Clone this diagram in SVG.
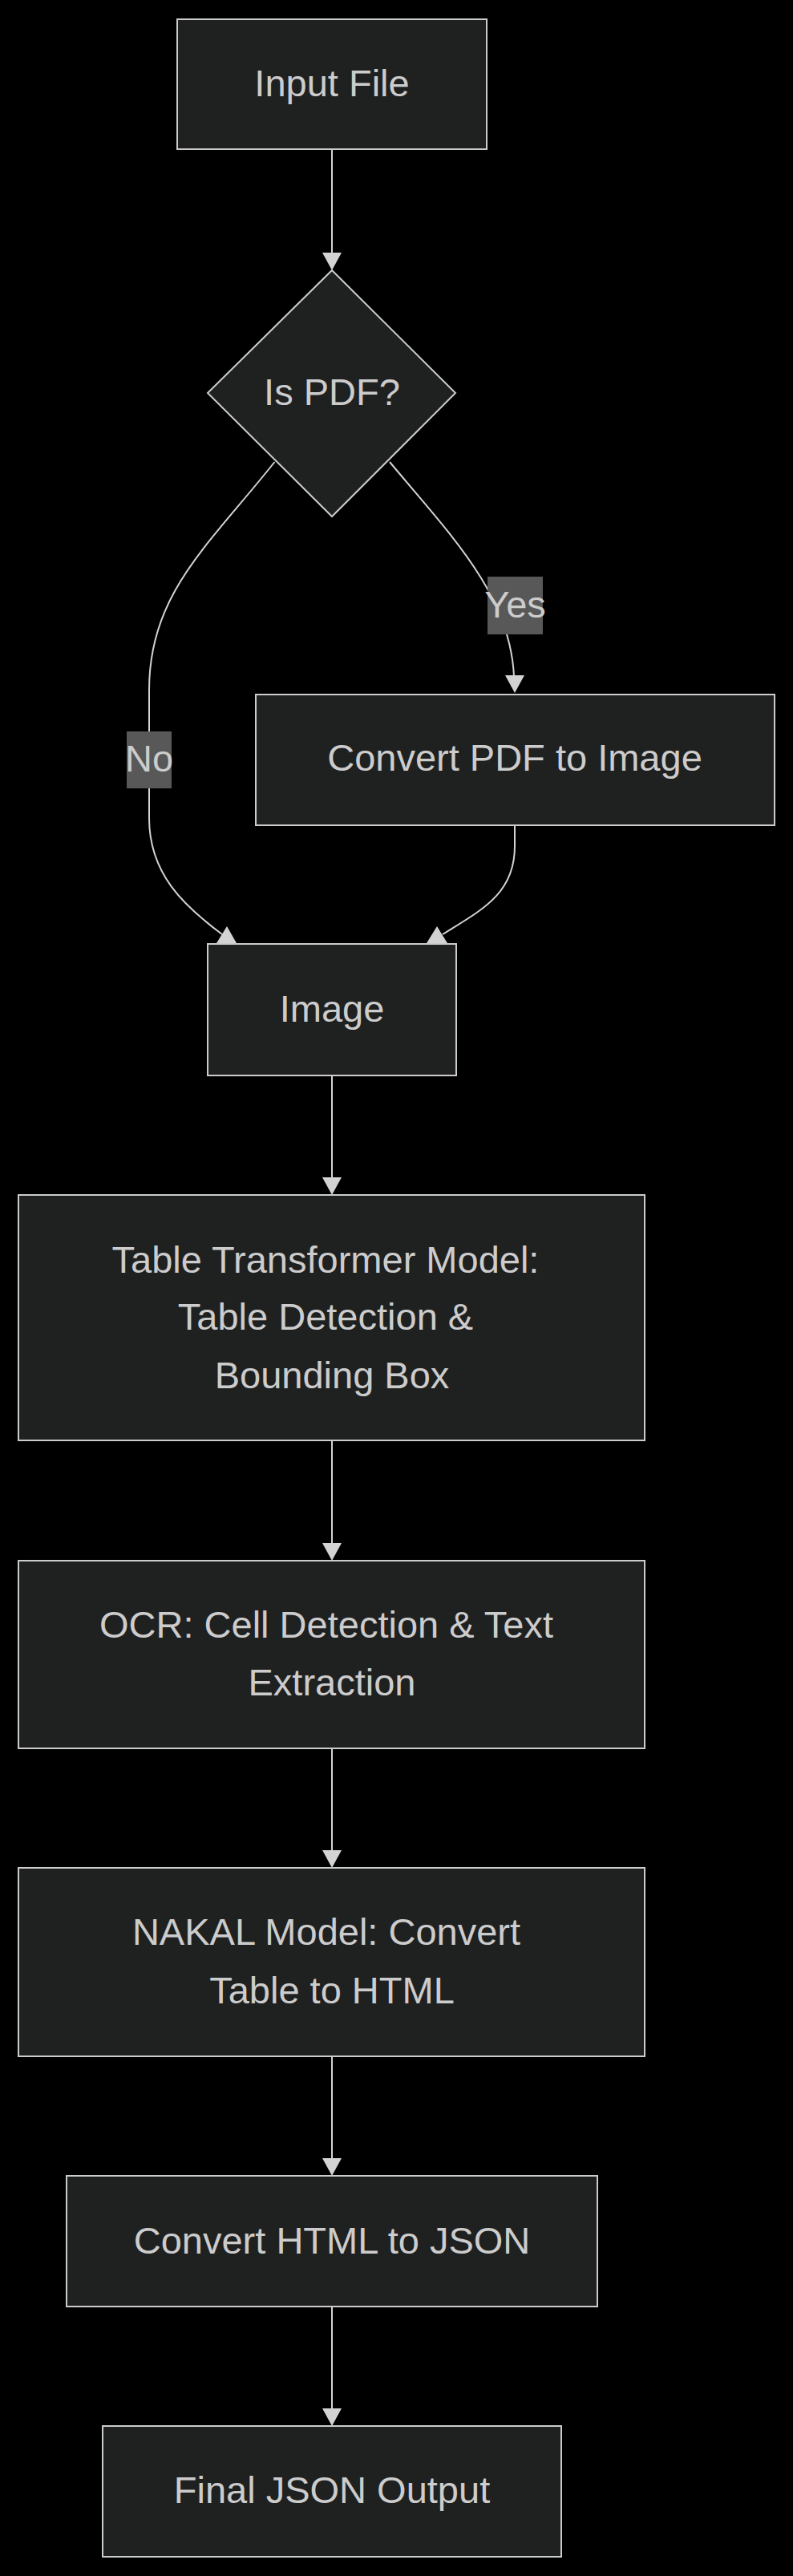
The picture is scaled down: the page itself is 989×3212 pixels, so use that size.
<svg xmlns="http://www.w3.org/2000/svg" width="989" height="3212" viewBox="0 0 989 3212">
<style>
.bg{fill:#000000}
.node{fill:#1f2020;stroke:#cccccc;stroke-width:2}
.lbl{font-family:"Liberation Sans",Arial,sans-serif;font-size:47px;fill:#cccccc;text-anchor:middle}
.edge{fill:none;stroke:#d3d3d3;stroke-width:2}
.head{fill:#d3d3d3}
.elbg{fill:#585858}
</style>
<rect class="bg" x="0" y="0" width="989" height="3212"/>
<g id="connectors">
  <path class="edge" d="M414,186 L414,316"/>
  <polygon class="head" points="402,315 426,315 414,337"/>
  <path class="edge" d="M342.5,576 C260,680 186,740 186,860 L186,1020 C186,1090 230,1130 277,1165"/>
  <polygon class="head" points="270,1176 295,1176 283,1155"/>
  <path class="edge" d="M486,576 C560,665 636,740 641,843"/>
  <polygon class="head" points="630,842 654,842 642,864"/>
  <path class="edge" d="M642,1029 L642,1055 C642,1115 600,1135 552,1165"/>
  <polygon class="head" points="532,1176 558,1176 545,1155"/>
  <path class="edge" d="M414,1341 L414,1469"/>
  <polygon class="head" points="402,1468 426,1468 414,1490"/>
  <path class="edge" d="M414,1796 L414,1925"/>
  <polygon class="head" points="402,1924 426,1924 414,1946"/>
  <path class="edge" d="M414,2180 L414,2308"/>
  <polygon class="head" points="402,2307 426,2307 414,2329"/>
  <path class="edge" d="M414,2564 L414,2692"/>
  <polygon class="head" points="402,2691 426,2691 414,2713"/>
  <path class="edge" d="M414,2876 L414,3004"/>
  <polygon class="head" points="402,3003 426,3003 414,3025"/>
  <g id="label-yes">
    <rect class="elbg" x="608" y="719" width="69" height="72"/>
    <text class="lbl" x="642.5" y="770">Yes</text>
  </g>
  <g id="label-no">
    <rect class="elbg" x="158" y="912" width="56" height="71"/>
    <text class="lbl" x="186" y="962">No</text>
  </g>
</g>
<g id="node-input">
  <rect class="node" x="221" y="24" width="386" height="162"/>
  <text class="lbl" x="414" y="120">Input File</text>
</g>
<g id="node-ispdf">
  <polygon class="node" points="414,337 568,490 414,644 259,490"/>
  <text class="lbl" x="414" y="505">Is PDF?</text>
</g>
<g id="node-convertpdf">
  <rect class="node" x="319" y="866" width="647" height="163"/>
  <text class="lbl" x="642" y="961">Convert PDF to Image</text>
</g>
<g id="node-image">
  <rect class="node" x="259" y="1177" width="310" height="164"/>
  <text class="lbl" x="414" y="1274">Image</text>
</g>
<g id="node-tabletransformer">
  <rect class="node" x="23" y="1490" width="781" height="306"/>
  <text class="lbl" x="406" y="1587">Table Transformer Model:</text>
  <text class="lbl" x="406" y="1658">Table Detection &amp;</text>
  <text class="lbl" x="414" y="1731">Bounding Box</text>
</g>
<g id="node-ocr">
  <rect class="node" x="23" y="1946" width="781" height="234"/>
  <text class="lbl" x="407" y="2042">OCR: Cell Detection &amp; Text</text>
  <text class="lbl" x="414" y="2114">Extraction</text>
</g>
<g id="node-nakal">
  <rect class="node" x="23" y="2329" width="781" height="235"/>
  <text class="lbl" x="407" y="2425">NAKAL Model: Convert</text>
  <text class="lbl" x="414" y="2498">Table to HTML</text>
</g>
<g id="node-html2json">
  <rect class="node" x="83" y="2713" width="662" height="163"/>
  <text class="lbl" x="414" y="2810">Convert HTML to JSON</text>
</g>
<g id="node-final">
  <rect class="node" x="128" y="3025" width="572" height="163"/>
  <text class="lbl" x="414" y="3121">Final JSON Output</text>
</g>
</svg>
